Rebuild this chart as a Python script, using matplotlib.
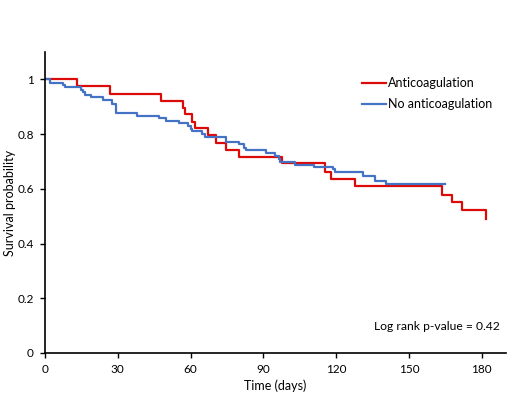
import matplotlib
matplotlib.use("Agg")
import matplotlib.pyplot as plt

# Kaplan-Meier step data (time in days, survival probability)
t_anti = [0, 13, 27, 48, 57, 57.6, 60.8, 61.7, 67, 70.6, 74.8, 79.8, 97.7,
          115.6, 117.7, 127.6, 163.5, 167.6, 171.7, 181.8]
s_anti = [1, 0.974, 0.947, 0.92, 0.895, 0.872, 0.845, 0.822, 0.796, 0.769,
          0.743, 0.716, 0.693, 0.663, 0.637, 0.61, 0.579, 0.55, 0.522, 0.49]

t_none = [0, 2, 7.3, 8.2, 14.7, 15.8, 16.7, 18.9, 24, 27.8, 29.2, 38, 46.9,
          50, 55.1, 59, 60, 60.8, 64.9, 65.8, 74.8, 79.8, 82, 82.7, 91, 95,
          96.4, 97, 102.9, 110.8, 118.6, 119.6, 131, 136, 140.6, 165]
s_none = [1, 0.988, 0.978, 0.971, 0.962, 0.953, 0.944, 0.934, 0.923, 0.909,
          0.878, 0.867, 0.859, 0.848, 0.84, 0.83, 0.82, 0.81, 0.799, 0.79,
          0.771, 0.762, 0.75, 0.74, 0.73, 0.72, 0.709, 0.697, 0.688, 0.679,
          0.672, 0.66, 0.647, 0.627, 0.617, 0.617]

x_ticks = [0, 30, 60, 90, 120, 150, 180]
y_ticks = [0, 0.2, 0.4, 0.6, 0.8, 1]
y_labels = ["0", "0.2", "0.4", "0.6", "0.8", "1"]

plt.rcParams['font.family'] = ['Lato', 'DejaVu Sans']

fig = plt.figure(figsize=(5.2, 3.97), dpi=100)
ax = fig.add_axes([0.0865, 0.111, 0.8865, 0.758])

ax.step(t_anti, s_anti, where='post', color='#DD0A0A', lw=1.6, label='Anticoagulation')
ax.step(t_none, s_none, where='post', color='#4472C4', lw=1.6, label='No anticoagulation')

ax.set_xlim(0, 190)
ax.set_ylim(0, 1.1)
ax.set_xticks(x_ticks)
ax.set_yticks(y_ticks)
ax.set_yticklabels(y_labels)
ax.tick_params(direction='out', length=3.5, width=1, labelsize=8.5,
               colors='black', pad=4.5)
for s in ['top', 'right']:
    ax.spines[s].set_visible(False)
for s in ['left', 'bottom']:
    ax.spines[s].set_linewidth(1.2)

ax.set_xlabel('Time (days)', fontsize=9, labelpad=3)
ax.set_ylabel('Survival probability', fontsize=9, labelpad=1)

ax.legend(loc='upper left', bbox_to_anchor=(0.688, 0.917), frameon=False,
          borderaxespad=0, borderpad=0, fontsize=9, handlelength=1.9,
          handletextpad=0.15, labelspacing=0.75)
ax.text(0.987, 0.088, 'Log rank p-value = 0.42', transform=ax.transAxes,
        ha='right', va='center', fontsize=8.7)

fig.savefig('out.png', dpi=100)
